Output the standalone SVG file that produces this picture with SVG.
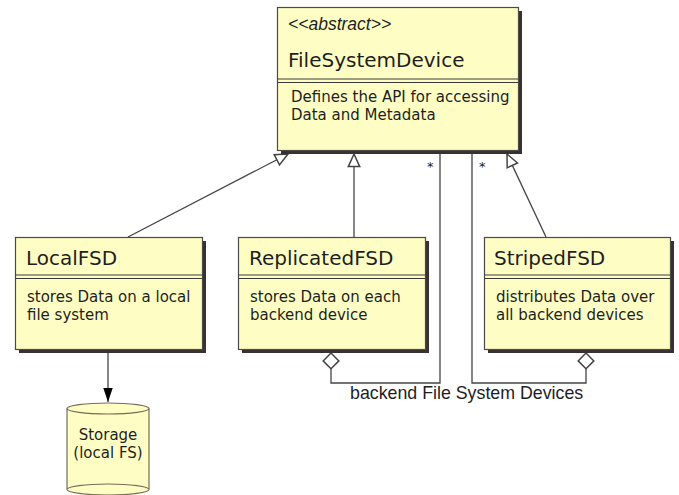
<svg xmlns="http://www.w3.org/2000/svg" width="679" height="495" viewBox="0 0 679 495">
  <style>
    .shadow { fill: #3b3030; }
    .box { fill: #fefec4; stroke: #4a4a4a; stroke-width: 1.2; }
    .sep { stroke: #3a3a3a; stroke-width: 1.2; }
    .title { font-family: "DejaVu Sans", sans-serif; font-size: 20px; fill: #1e1e1e; }
    .desc { font-family: "DejaVu Sans", sans-serif; font-size: 15px; fill: #1e1e1e; }
    .stereo { font-family: "Liberation Sans", Arial, sans-serif; font-size: 17.5px; font-style: italic; fill: #1e1e1e; }
    .edge { fill: none; stroke: #444; stroke-width: 1.3; }
    .lbl { font-family: "Liberation Sans", Arial, sans-serif; font-size: 17.8px; fill: #1e1e1e; }
    .mult { font-family: "DejaVu Sans", sans-serif; font-size: 13px; fill: #222222; }
    .cyl { fill: #fefec4; stroke: #7a6a58; stroke-width: 1.2; }
  </style>
  <defs>
    <marker id="inherit" markerUnits="userSpaceOnUse" markerWidth="16" markerHeight="16" viewBox="-12 -7 14 14" refX="0" refY="0" orient="auto">
      <path d="M0,0 L-11,-5 L-11,5 Z" fill="#ffffff" stroke="#444" stroke-width="1.3"/>
    </marker>
    <marker id="aggr" markerUnits="userSpaceOnUse" markerWidth="18" markerHeight="18" viewBox="-1 -8 16 16" refX="0" refY="0" orient="auto">
      <path d="M0,0 L7,-7 L14,0 L7,7 Z" fill="#ffffff" stroke="#444" stroke-width="1.3"/>
    </marker>
    <marker id="arrow" markerUnits="userSpaceOnUse" markerWidth="16" markerHeight="16" viewBox="-16 -7 17 14" refX="0" refY="0" orient="auto">
      <path d="M0,0 L-15,-5 L-15,5 Z" fill="#000000"/>
    </marker>
  </defs>

  <!-- connectors -->
  <g id="connectors">
    <path class="edge" d="M128,237 L288,154" marker-end="url(#inherit)"/>
    <path class="edge" d="M354,237 L354,154" marker-end="url(#inherit)"/>
    <path class="edge" d="M546,237 L507,154" marker-end="url(#inherit)"/>
    <path class="edge" d="M331,353 L331,383 L440,383 L440,150" marker-start="url(#aggr)"/>
    <path class="edge" d="M586,353 L586,383 L472,383 L472,150" marker-start="url(#aggr)"/>
    <path class="edge" d="M108,352 L108,402" marker-end="url(#arrow)"/>
    <text class="mult" x="427" y="171">*</text>
    <text class="mult" x="479" y="171">*</text>
    <text class="lbl" x="350" y="399">backend File System Devices</text>
  </g>

  <!-- abstract base class -->
  <g id="FileSystemDevice">
    <rect class="shadow" x="281" y="11" width="241" height="143"/>
    <rect class="box" x="277.5" y="7.5" width="241" height="143"/>
    <line class="sep" x1="277.5" y1="79" x2="518.5" y2="79"/>
    <line class="sep" x1="277.5" y1="82.5" x2="518.5" y2="82.5"/>
    <text class="stereo" x="288" y="30">&lt;&lt;abstract&gt;&gt;</text>
    <text class="title" x="288" y="67">FileSystemDevice</text>
    <text class="desc" x="291" y="102">Defines the API for accessing</text>
    <text class="desc" x="291" y="120">Data and Metadata</text>
  </g>

  <g id="LocalFSD">
    <rect class="shadow" x="19" y="241" width="187" height="112"/>
    <rect class="box" x="15.5" y="237.5" width="187" height="112"/>
    <line class="sep" x1="15.5" y1="275" x2="202.5" y2="275"/>
    <line class="sep" x1="15.5" y1="278.5" x2="202.5" y2="278.5"/>
    <text class="title" x="26" y="265">LocalFSD</text>
    <text class="desc" x="27" y="302">stores Data on a local</text>
    <text class="desc" x="27" y="319.5">file system</text>
  </g>

  <g id="ReplicatedFSD">
    <rect class="shadow" x="242" y="241" width="187" height="112"/>
    <rect class="box" x="238.5" y="237.5" width="187" height="112"/>
    <line class="sep" x1="238.5" y1="275" x2="425.5" y2="275"/>
    <line class="sep" x1="238.5" y1="278.5" x2="425.5" y2="278.5"/>
    <text class="title" x="249" y="265">ReplicatedFSD</text>
    <text class="desc" x="250" y="302">stores Data on each</text>
    <text class="desc" x="250" y="319.5">backend device</text>
  </g>

  <g id="StripedFSD">
    <rect class="shadow" x="488" y="241" width="186" height="112"/>
    <rect class="box" x="484.5" y="237.5" width="186" height="112"/>
    <line class="sep" x1="484.5" y1="275" x2="670.5" y2="275"/>
    <line class="sep" x1="484.5" y1="278.5" x2="670.5" y2="278.5"/>
    <text class="title" x="494" y="265">StripedFSD</text>
    <text class="desc" x="496" y="302">distributes Data over</text>
    <text class="desc" x="496" y="319.5">all backend devices</text>
  </g>

  <!-- storage cylinder -->
  <g id="Storage">
    <path class="cyl" d="M67,408.5 L67,489.5 A41,5.5 0 0 0 149,489.5 L149,408.5"/>
    <path class="cyl" d="M67,489.5 A41,5.5 0 0 1 149,489.5" fill="none"/>
    <ellipse class="cyl" cx="108" cy="408.5" rx="41" ry="5.5"/>
    <text class="desc" x="108" y="440" text-anchor="middle">Storage</text>
    <text class="desc" x="108" y="458" text-anchor="middle">(local FS)</text>
  </g>
</svg>
